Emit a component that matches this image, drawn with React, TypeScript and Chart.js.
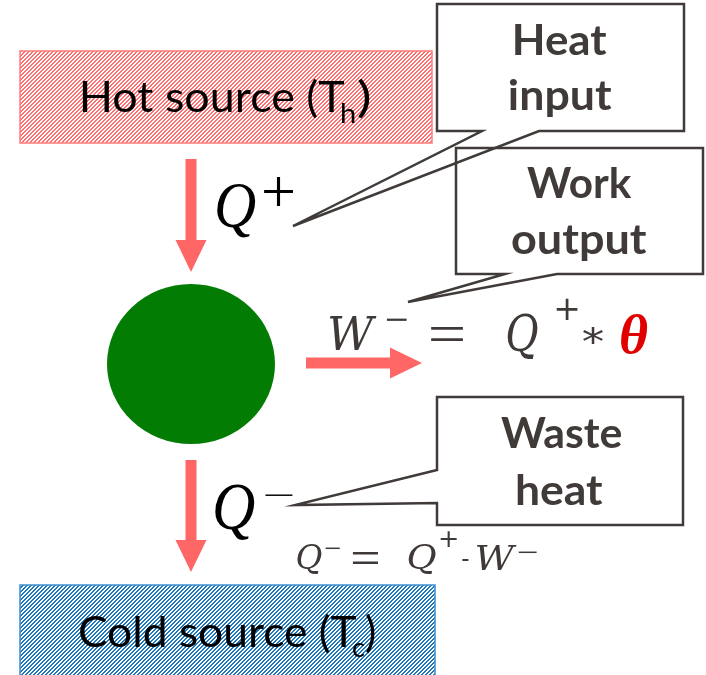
import React, { useEffect, useRef } from "react";
import { Chart, registerables } from "chart.js";

Chart.register(...registerables);

// ---- diagram data (in a 706 x 675 value space) ----
const sourceNames = ["Hot source (T", "Cold source (T"];
const sourceSubs = ["h", "c"];
const sourceLeft = [20, 20];
const sourceRight = [432, 435];
const sourceTop = [51, 585];
const sourceBottom = [143, 679];
const sourceNameInk = [[82, 345, 112], [80, 357, 647]];
const sourceSubInk = [[341, 355, 123], [353, 365, 657]];
const sourceParenInk = [[358, 370, 112], [366, 375, 647]];

const calloutWords = [["Heat", "input"], ["Work", "output"], ["Waste", "heat"]];
const calloutWordInk = [
  [[515, 607, 55], [510, 612, 110]],
  [[527, 632, 198], [512, 647, 254]],
  [[501, 622, 448], [517, 603, 505]],
];
const calloutOutlines = [
  [[437, 4], [684, 4], [684, 131], [539, 131], [293, 226], [482, 131], [437, 131]],
  [[456, 148], [703, 148], [703, 274], [557, 274], [408, 302], [505, 274], [456, 274]],
  [[437, 397], [683, 397], [683, 525], [437, 525], [437, 503], [295, 505], [437, 470]],
];

const arrowFrom = [[191, 159], [191, 460], [306, 363]];
const arrowTo = [[191, 272], [191, 572], [422, 363]];

const engineCenter = [191, 364];
const engineRadii = [84, 80];

// glyph, ink box [x0, y0, x1, y1], style
const mathGlyphs: [string, number[], string][] = [
  ["Q", [217, 185, 256, 238], "big"],
  ["+", [263, 177, 293, 207], "bigUp"],
  ["Q", [215, 485, 255, 540], "big"],
  ["−", [265, 494, 293, 496], "bigUp"],
  ["W", [330, 315, 377, 350], "eq"],
  ["−", [386, 318, 407, 321], "eqUp"],
  ["=", [430, 328, 463, 342], "eqOp"],
  ["Q", [507, 313, 538, 360], "eq"],
  ["+", [556, 298, 578, 320], "eqUp"],
  ["*", [583, 327, 603, 345], "eqUp"],
  ["θ", [620, 313, 648, 353], "theta"],
  ["Q", [297, 544, 322, 575], "eq"],
  ["−", [325, 547, 340, 549], "eqUp"],
  ["=", [352, 552, 378, 564], "eqOp"],
  ["Q", [408, 544, 436, 575], "eq"],
  ["+", [440, 531, 457, 547], "eqUp"],
  ["-", [462, 560, 469, 562], "eqUp"],
  ["W", [477, 545, 517, 570], "eq"],
  ["−", [518, 551, 537, 553], "eqUp"],
];

const glyphStyles: Record<string, { font: string; color: string }> = {
  big: { font: "italic 60px 'Liberation Serif'", color: "#000000" },
  bigUp: { font: "60px 'Liberation Serif'", color: "#000000" },
  eq: { font: "italic 46px 'DejaVu Serif'", color: "#3f3a38" },
  eqUp: { font: "36px 'DejaVu Sans'", color: "#3f3a38" },
  eqOp: { font: "60px 'Liberation Serif'", color: "#3f3a38" },
  theta: { font: "italic bold 50px 'Liberation Serif'", color: "#e00000" },
};

function makePattern(ctx: CanvasRenderingContext2D, color: [number, number, number]) {
  const c = document.createElement("canvas");
  c.width = 4;
  c.height = 4;
  const g = c.getContext("2d")!;
  const img = g.createImageData(4, 4);
  for (let y = 0; y < 4; y++) {
    for (let x = 0; x < 4; x++) {
      const i = (y * 4 + x) * 4;
      const d = (x + y) % 4;
      const on = d === 3 || d === 0;
      img.data[i] = on ? color[0] : 255;
      img.data[i + 1] = on ? color[1] : 255;
      img.data[i + 2] = on ? color[2] : 255;
      img.data[i + 3] = 255;
    }
  }
  g.putImageData(img, 0, 0);
  return ctx.createPattern(c, "repeat")!;
}

export default function App() {
  const ref = useRef<HTMLCanvasElement | null>(null);

  useEffect(() => {
    const canvas = ref.current;
    if (!canvas) return;

    const diagramPlugin = {
      id: "diagram",
      beforeDraw(chart: any) {
        const ctx: CanvasRenderingContext2D = chart.ctx;
        const xs = chart.scales.x;
        const ys = chart.scales.y;
        const X = (v: number) => xs.getPixelForValue(v);
        const Y = (v: number) => ys.getPixelForValue(v);

        const fitBox = (text: string, font: string, color: string, b: number[]) => {
          ctx.save();
          ctx.font = font;
          ctx.textAlign = "left";
          ctx.textBaseline = "alphabetic";
          const m = ctx.measureText(text);
          const w = m.actualBoundingBoxLeft + m.actualBoundingBoxRight;
          const h = m.actualBoundingBoxAscent + m.actualBoundingBoxDescent;
          const x0 = X(b[0]), y0 = Y(b[1]), x1 = X(b[2]), y1 = Y(b[3]);
          ctx.translate(x0, y0);
          ctx.scale((x1 - x0) / w, (y1 - y0) / h);
          ctx.fillStyle = color;
          ctx.fillText(text, m.actualBoundingBoxLeft, m.actualBoundingBoxAscent);
          ctx.restore();
        };
        const fitWidth = (text: string, font: string, color: string, b: number[]) => {
          ctx.save();
          ctx.font = font;
          ctx.textAlign = "left";
          ctx.textBaseline = "alphabetic";
          const m = ctx.measureText(text);
          const w = m.actualBoundingBoxLeft + m.actualBoundingBoxRight;
          const x0 = X(b[0]), x1 = X(b[1]), base = Y(b[2]);
          ctx.translate(x0, base);
          ctx.scale((x1 - x0) / w, 1);
          ctx.fillStyle = color;
          ctx.fillText(text, m.actualBoundingBoxLeft, 0);
          ctx.restore();
        };

        ctx.save();
        ctx.fillStyle = "#ffffff";
        ctx.fillRect(0, 0, chart.width, chart.height);

        // source boxes
        const pats = [makePattern(ctx, [255, 110, 110]), makePattern(ctx, [30, 120, 190])];
        const borders = ["#ff7b7b", "#3d8fd0"];
        for (let i = 0; i < sourceNames.length; i++) {
          const x0 = X(sourceLeft[i]), x1 = X(sourceRight[i]);
          const y0 = Y(sourceTop[i]), y1 = Y(sourceBottom[i]);
          ctx.fillStyle = pats[i];
          ctx.fillRect(x0, y0, x1 - x0, y1 - y0);
          ctx.strokeStyle = borders[i];
          ctx.lineWidth = 1.5;
          ctx.strokeRect(x0, y0, x1 - x0, y1 - y0);
          fitWidth(sourceNames[i], "42px Lato", "#000000", sourceNameInk[i]);
          fitWidth(sourceSubs[i], "27px Lato", "#000000", sourceSubInk[i]);
          fitWidth(")", "42px Lato", "#000000", sourceParenInk[i]);
        }

        // arrows
        ctx.fillStyle = "#ff6666";
        for (let i = 0; i < arrowFrom.length; i++) {
          const ax = X(arrowFrom[i][0]), ay = Y(arrowFrom[i][1]);
          const bx = X(arrowTo[i][0]), by = Y(arrowTo[i][1]);
          const len = Math.hypot(bx - ax, by - ay);
          const ux = (bx - ax) / len, uy = (by - ay) / len;
          const px = -uy, py = ux;
          const head = 32, sw = 5.5, hw = 15.5;
          const hx = bx - ux * head, hy = by - uy * head;
          ctx.beginPath();
          ctx.moveTo(ax + px * sw, ay + py * sw);
          ctx.lineTo(hx + px * sw, hy + py * sw);
          ctx.lineTo(hx + px * hw, hy + py * hw);
          ctx.lineTo(bx, by);
          ctx.lineTo(hx - px * hw, hy - py * hw);
          ctx.lineTo(hx - px * sw, hy - py * sw);
          ctx.lineTo(ax - px * sw, ay - py * sw);
          ctx.closePath();
          ctx.fill();
        }

        // engine
        ctx.fillStyle = "#037c03";
        ctx.beginPath();
        ctx.ellipse(
          X(engineCenter[0]), Y(engineCenter[1]),
          Math.abs(X(engineRadii[0]) - X(0)), Math.abs(Y(engineRadii[1]) - Y(0)),
          0, 0, Math.PI * 2
        );
        ctx.fill();

        // callouts
        ctx.strokeStyle = "#403a38";
        ctx.lineWidth = 2.5;
        ctx.lineJoin = "miter";
        for (let i = 0; i < calloutOutlines.length; i++) {
          const pts = calloutOutlines[i];
          ctx.beginPath();
          pts.forEach((p, j) => (j ? ctx.lineTo(X(p[0]), Y(p[1])) : ctx.moveTo(X(p[0]), Y(p[1]))));
          ctx.closePath();
          ctx.stroke();
          for (let k = 0; k < calloutWords[i].length; k++) {
            fitWidth(calloutWords[i][k], "bold 42px Lato", "#403a38", calloutWordInk[i][k]);
          }
        }

        // math
        for (const [g, box, st] of mathGlyphs) {
          fitBox(g, glyphStyles[st].font, glyphStyles[st].color, box);
        }
        ctx.restore();
      },
    };

    const chart = new Chart(canvas, {
      type: "scatter",
      data: { datasets: [{ data: [], pointRadius: 0 }] },
      options: {
        animation: false,
        responsive: false,
        devicePixelRatio: 1,
        layout: { padding: 0 },
        plugins: { legend: { display: false }, tooltip: { enabled: false } },
        scales: {
          x: { type: "linear", min: 0, max: 706, display: false },
          y: { type: "linear", min: 0, max: 675, reverse: true, display: false },
        },
      },
      plugins: [diagramPlugin],
    });
    return () => chart.destroy();
  }, []);

  return (
    <div style={{ position: "absolute", left: 0, top: 0, width: 706, height: 675, background: "#fff" }}>
      <canvas ref={ref} width={706} height={675} style={{ display: "block" }} />
    </div>
  );
}
